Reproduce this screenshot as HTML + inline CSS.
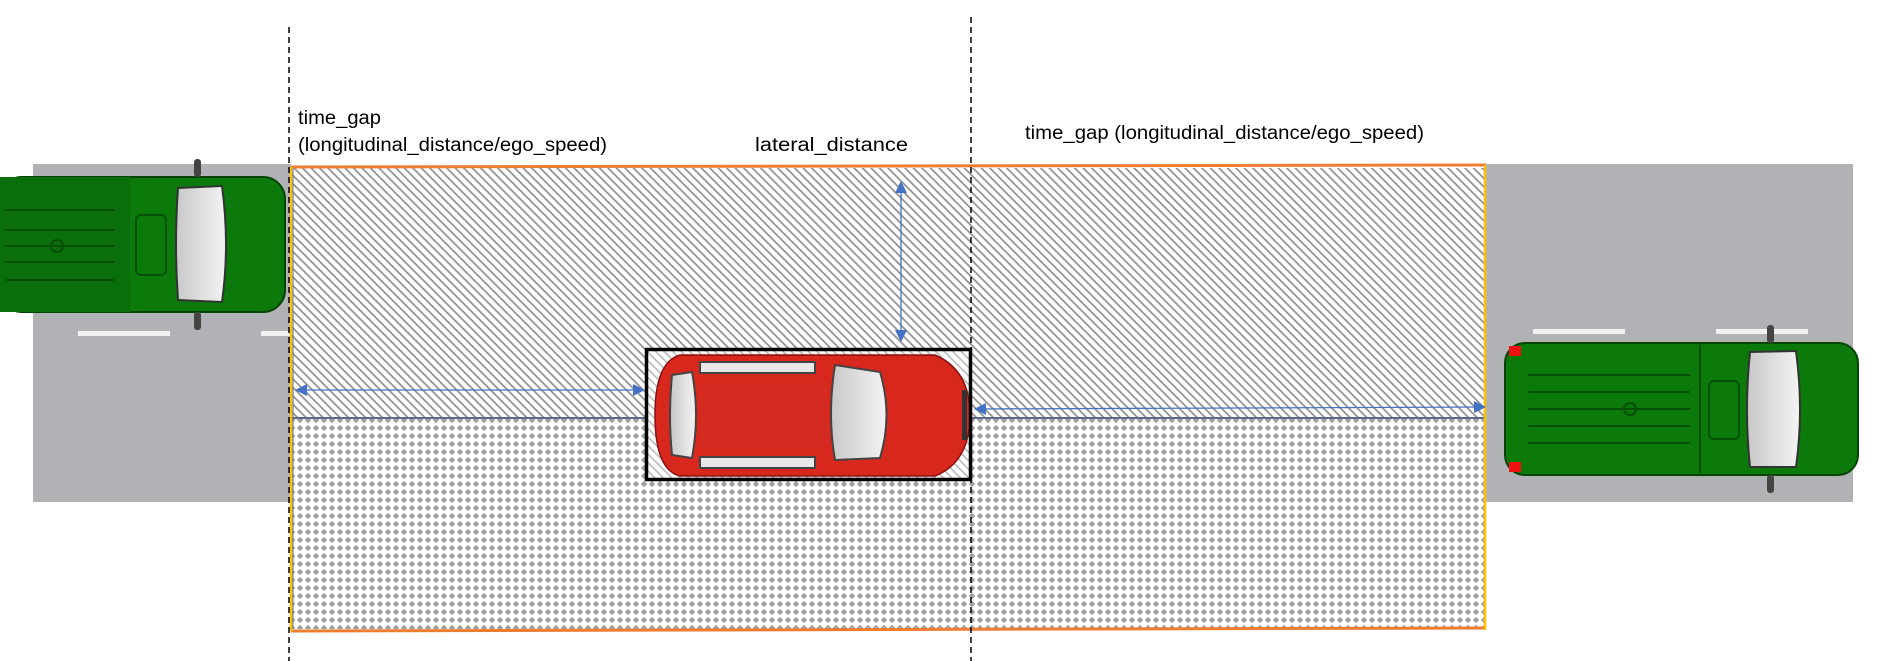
<!DOCTYPE html>
<html><head><meta charset="utf-8"><style>html,body{margin:0;padding:0;background:#fff}svg{display:block}</style></head>
<body>
<svg width="1880" height="661" viewBox="0 0 1880 661" xmlns="http://www.w3.org/2000/svg" font-family="'Liberation Sans', sans-serif">
<defs>
<pattern id="hatch" width="6" height="6" patternUnits="userSpaceOnUse" patternTransform="rotate(45)">
<rect width="6" height="6" fill="#fff"/><rect x="0" y="0" width="6" height="1.7" fill="#8f8f8f"/>
</pattern>
<pattern id="dots" width="8" height="8" patternUnits="userSpaceOnUse">
<rect width="8" height="8" fill="#fff"/><polygon points="4,0.8 7.2,4 4,7.2 0.8,4" fill="#a0a0a0"/>
</pattern>
<linearGradient id="ws" x1="0" x2="1"><stop offset="0" stop-color="#c8c8c8"/><stop offset="1" stop-color="#f4f4f4"/></linearGradient>
<marker id="ah2" markerWidth="12" markerHeight="12" refX="11" refY="6" orient="auto-start-reverse" markerUnits="userSpaceOnUse"><path d="M0,0 L12,6 L0,12 z" fill="#4472c4"/></marker>
</defs>
<rect x="33" y="164" width="258" height="338" fill="#b1b2b6"/>
<rect x="1486" y="164" width="367" height="338" fill="#b1b2b6"/>
<rect x="78" y="331" width="92" height="5" fill="#f2f2f2"/>
<rect x="261" y="331" width="29" height="5" fill="#f2f2f2"/>
<rect x="1533" y="329" width="92" height="5" fill="#f2f2f2"/>
<rect x="1716" y="329" width="92" height="5" fill="#f2f2f2"/>
<rect x="292" y="168" width="1193" height="250" fill="url(#hatch)"/>
<rect x="292" y="418" width="1193" height="211" fill="url(#dots)"/>
<line x1="292" y1="418" x2="1485" y2="418" stroke="#5b6b8c" stroke-width="2"/>
<line x1="293" y1="168" x2="293" y2="629" stroke="#5b6b8c" stroke-width="1"/>
<line x1="291" y1="167" x2="1486" y2="165" stroke="#ed7d31" stroke-width="3"/>
<line x1="291" y1="631" x2="1486" y2="628" stroke="#ed7d31" stroke-width="3"/>
<line x1="291" y1="167" x2="291" y2="631" stroke="#ffc000" stroke-width="2.5"/>
<line x1="1485" y1="165" x2="1485" y2="630" stroke="#ffc000" stroke-width="2.5"/>
<g>
<rect x="0" y="177" width="285" height="135" rx="22" fill="#0b7a0b" stroke="#064406" stroke-width="2"/>
<rect x="0" y="177" width="130" height="135" fill="#0a6e0a"/>
<g stroke="#065006" stroke-width="2" fill="none">
<line x1="5" y1="210" x2="115" y2="210"/><line x1="5" y1="230" x2="115" y2="230"/><line x1="5" y1="246" x2="115" y2="246"/><line x1="5" y1="262" x2="115" y2="262"/><line x1="5" y1="280" x2="115" y2="280"/>
<rect x="136" y="215" width="30" height="60" rx="5"/>
<circle cx="57" cy="246" r="6"/>
</g>
<path d="M178,188 L222,186 Q230,245 222,302 L178,300 Q174,245 178,188 z" fill="url(#ws)" stroke="#333" stroke-width="2"/>
<rect x="194" y="159" width="7" height="18" rx="3" fill="#444"/>
<rect x="194" y="312" width="7" height="18" rx="3" fill="#444"/>
</g>
<g>
<rect x="1505" y="343" width="353" height="132" rx="20" fill="#0b7a0b" stroke="#064406" stroke-width="2"/>
<g stroke="#065006" stroke-width="2" fill="none">
<line x1="1528" y1="375" x2="1690" y2="375"/><line x1="1528" y1="392" x2="1690" y2="392"/><line x1="1528" y1="409" x2="1690" y2="409"/><line x1="1528" y1="426" x2="1690" y2="426"/><line x1="1528" y1="443" x2="1690" y2="443"/>
<rect x="1709" y="381" width="30" height="58" rx="5"/>
<circle cx="1630" cy="409" r="6"/>
<line x1="1700" y1="345" x2="1700" y2="473"/>
</g>
<rect x="1509" y="346" width="12" height="10" fill="#e11"/>
<rect x="1509" y="462" width="12" height="10" fill="#e11"/>
<path d="M1750,352 L1796,351 Q1804,410 1796,467 L1750,467 Q1744,410 1750,352 z" fill="url(#ws)" stroke="#333" stroke-width="2"/>
<rect x="1767" y="325" width="7" height="18" rx="3" fill="#444"/>
<rect x="1767" y="475" width="7" height="18" rx="3" fill="#444"/>
</g>
<rect x="645" y="348" width="327" height="133" fill="#fff"/>
<rect x="645" y="348" width="327" height="133" fill="url(#hatch)" opacity="0.6"/>
<g>
<path d="M680,355 L935,355 Q970,370 970,415 Q970,462 935,476 L680,476 Q655,470 655,415 Q655,362 680,355 z" fill="#d8281e" stroke="#8a1010" stroke-width="1.5"/>
<path d="M672,375 L692,372 Q700,415 692,458 L672,455 Q668,415 672,375 z" fill="url(#ws)" stroke="#444" stroke-width="2"/>
<path d="M835,365 L880,372 Q893,415 880,458 L835,460 Q827,415 835,365 z" fill="url(#ws)" stroke="#444" stroke-width="2"/>
<rect x="700" y="362" width="115" height="11" fill="#e8e8e8" stroke="#444" stroke-width="2"/>
<rect x="700" y="457" width="115" height="11" fill="#e8e8e8" stroke="#444" stroke-width="2"/>
<rect x="700" y="382" width="128" height="67" fill="#d42a20"/>
<rect x="962" y="390" width="5" height="50" fill="#333"/>
</g>
<rect x="646.5" y="349.5" width="324" height="130" fill="none" stroke="#000" stroke-width="3.5"/>
<line x1="289" y1="27" x2="289" y2="661" stroke="#000" stroke-width="1.5" stroke-dasharray="6,4"/>
<line x1="971" y1="17" x2="971" y2="661" stroke="#000" stroke-width="1.5" stroke-dasharray="6,4"/>
<line x1="296" y1="390" x2="644" y2="390" stroke="#4472c4" stroke-width="1.3" marker-start="url(#ah2)" marker-end="url(#ah2)"/>
<line x1="975" y1="409" x2="1485" y2="407" stroke="#4472c4" stroke-width="1.3" marker-start="url(#ah2)" marker-end="url(#ah2)"/>
<line x1="901" y1="182" x2="901" y2="341" stroke="#4472c4" stroke-width="1.3" marker-start="url(#ah2)" marker-end="url(#ah2)"/>
<g font-size="19" fill="#000">
<text x="298" y="124" textLength="83" lengthAdjust="spacingAndGlyphs">time_gap</text>
<text x="298" y="151" textLength="309" lengthAdjust="spacingAndGlyphs">(longitudinal_distance/ego_speed)</text>
<text x="755" y="151" textLength="153" lengthAdjust="spacingAndGlyphs">lateral_distance</text>
<text x="1025" y="139" textLength="399" lengthAdjust="spacingAndGlyphs">time_gap (longitudinal_distance/ego_speed)</text>
</g>
</svg>
</body></html>
